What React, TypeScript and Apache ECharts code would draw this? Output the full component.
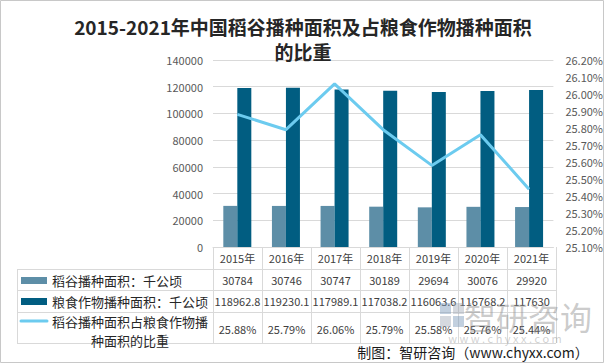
import React, { useEffect, useRef } from 'react';
import * as echarts from 'echarts';

const categories = ['2015年', '2016年', '2017年', '2018年', '2019年', '2020年', '2021年'];
const riceArea = [30784, 30746, 30747, 30189, 29694, 30076, 29920];
const grainArea = [118962.8, 119230.1, 117989.1, 117038.2, 116063.6, 116768.2, 117630];
const ratio = [25.88, 25.79, 26.06, 25.79, 25.58, 25.76, 25.44];
const seriesNames = ['稻谷播种面积：千公顷', '粮食作物播种面积：千公顷', '稻谷播种面积占粮食作物播种面积的比重'];

const W = 606;
const H = 364;
const GL = 213;
const GR = 50;
const GT = 60;
const GB = 117;
const PW = W - GL - GR;
const CW = PW / categories.length;
const AXIS_Y = H - GB;

const C_LIGHT = '#5d8ea7';
const C_DARK = '#015d81';
const C_LINE = '#6ccbef';
const FONT = '"Noto Sans CJK SC", "Noto Sans", sans-serif';
const GRIDC = '#d9d9d9';

function buildTable(): any[] {
  const els: any[] = [];
  const rowLines = [269, 290, 312, 343];
  const tLeft = 17;
  const tRight = GL + PW;
  rowLines.forEach((y) => {
    els.push({ type: 'line', shape: { x1: tLeft, y1: y + 0.5, x2: tRight, y2: y + 0.5 }, style: { stroke: GRIDC, lineWidth: 1 } });
  });
  els.push({ type: 'line', shape: { x1: tLeft + 0.5, y1: 269, x2: tLeft + 0.5, y2: 343 }, style: { stroke: GRIDC, lineWidth: 1 } });
  for (let i = 0; i <= categories.length; i++) {
    const x = Math.round(GL + i * CW) + 0.5;
    els.push({ type: 'line', shape: { x1: x, y1: AXIS_Y, x2: x, y2: 343 }, style: { stroke: GRIDC, lineWidth: 1 } });
  }
  const cellStyle = (text: string, x: number, y: number) => ({
    type: 'text',
    x,
    y,
    style: { text, fill: '#404040', font: `11px ${FONT}`, textAlign: 'center', textVerticalAlign: 'middle' },
  });
  categories.forEach((c, i) => {
    const cx = GL + (i + 0.5) * CW;
    els.push(cellStyle(c, cx, 258));
    els.push(cellStyle(String(riceArea[i]), cx, 280));
    els.push(cellStyle(String(grainArea[i]), cx, 301));
    els.push(cellStyle(ratio[i].toFixed(2) + '%', cx, 329));
  });
  // legend keys
  els.push({ type: 'rect', shape: { x: 21, y: 277, width: 26, height: 7 }, style: { fill: C_LIGHT } });
  els.push({ type: 'rect', shape: { x: 21, y: 298, width: 26, height: 7 }, style: { fill: C_DARK } });
  els.push({ type: 'line', shape: { x1: 21, y1: 321, x2: 47, y2: 321 }, style: { stroke: C_LINE, lineWidth: 3, lineCap: 'round' } });
  const lab = (text: string, x: number, y: number, align: string) => ({
    type: 'text',
    x,
    y,
    style: { text, fill: '#262626', font: `13px ${FONT}`, textAlign: align, textVerticalAlign: 'middle' },
  });
  els.push(lab(seriesNames[0], 52, 280, 'left'));
  els.push(lab(seriesNames[1], 52, 301, 'left'));
  els.push(lab('稻谷播种面积占粮食作物播', 130, 321, 'center'));
  els.push(lab('种面积的比重', 130, 340, 'center'));
  return els;
}

function buildDecor(): any[] {
  return [
    { type: 'rect', shape: { x: 0.5, y: 0.5, width: W - 3, height: H - 2 }, style: { fill: 'none', stroke: '#c8c8c8', lineWidth: 1 } },
    // watermark logo
    { type: 'rect', shape: { x: 440, y: 303, width: 11, height: 11 }, style: { fill: 'rgba(120,150,185,0.45)' } },
    { type: 'rect', shape: { x: 453, y: 303, width: 11, height: 11 }, style: { fill: 'rgba(150,160,175,0.4)' } },
    { type: 'rect', shape: { x: 440, y: 316, width: 11, height: 11 }, style: { fill: 'rgba(150,160,175,0.4)' } },
    { type: 'rect', shape: { x: 453, y: 316, width: 11, height: 11 }, style: { fill: 'rgba(120,150,185,0.45)' } },
    { type: 'text', x: 528, y: 316, style: { text: '智研咨询', fill: 'rgba(140,140,140,0.45)', font: `32px ${FONT}`, textAlign: 'center', textVerticalAlign: 'middle' } },
    { type: 'text', x: 505, y: 338, style: { text: 'w w w . c h y x x . c o m', fill: 'rgba(150,150,150,0.45)', font: `11px ${FONT}`, textAlign: 'center', textVerticalAlign: 'middle' } },
    { type: 'text', x: 473, y: 352, style: { text: '制图：智研咨询（www.chyxx.com）', fill: '#1a1a1a', font: `14px ${FONT}`, textAlign: 'center', textVerticalAlign: 'middle' } },
  ];
}

export default function App() {
  const ref = useRef<HTMLDivElement>(null);
  useEffect(() => {
    if (!ref.current) return;
    const chart = echarts.init(ref.current, null, { renderer: 'svg' });
    chart.setOption({
      animation: false,
      backgroundColor: '#ffffff',
      title: {
        text: '2015-2021年中国稻谷播种面积及占粮食作物播种面积\n的比重',
        left: 'center',
        top: 9,
        textStyle: { fontSize: 19, fontWeight: 'bold', color: '#262626', lineHeight: 25, fontFamily: FONT },
      },
      grid: { left: GL, right: GR, top: GT, bottom: GB, containLabel: false },
      xAxis: {
        type: 'category',
        data: categories,
        axisLine: { show: true, lineStyle: { color: GRIDC } },
        axisTick: { show: false },
        axisLabel: { show: false },
      },
      yAxis: [
        {
          type: 'value',
          min: 0,
          max: 140000,
          interval: 20000,
          axisLine: { show: false },
          axisTick: { show: false },
          axisLabel: { color: '#595959', fontSize: 11, margin: 10, fontFamily: FONT, formatter: (v: number) => String(v) },
          splitLine: { lineStyle: { color: GRIDC } },
        },
        {
          type: 'value',
          min: 25.1,
          max: 26.2,
          interval: 0.1,
          position: 'right',
          axisLine: { show: false },
          axisTick: { show: false },
          axisLabel: { color: '#595959', fontSize: 11, margin: 12, fontFamily: FONT, formatter: (v: number) => v.toFixed(2) + '%' },
          splitLine: { show: false },
        },
      ],
      series: [
        { name: seriesNames[0], type: 'bar', data: riceArea, barWidth: 14, barGap: '0%', itemStyle: { color: C_LIGHT } },
        { name: seriesNames[1], type: 'bar', data: grainArea, barWidth: 14, barGap: '0%', itemStyle: { color: C_DARK } },
        {
          name: seriesNames[2],
          type: 'line',
          yAxisIndex: 1,
          data: ratio,
          symbol: 'none',
          lineStyle: { color: C_LINE, width: 3 },
          itemStyle: { color: C_LINE },
          z: 5,
        },
      ],
      graphic: [...buildTable(), ...buildDecor()],
    });
    return () => chart.dispose();
  }, []);
  return <div ref={ref} style={{ position: 'fixed', left: 0, top: 0, width: W, height: H }} />;
}
